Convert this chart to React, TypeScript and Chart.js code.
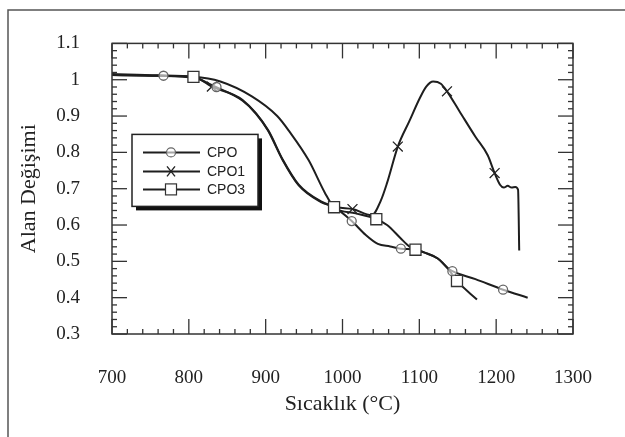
import React, { useEffect, useRef } from "react";
import { Chart, registerables } from "chart.js";

Chart.register(...registerables);

// ---- data -------------------------------------------------------------
const xTicks = [700, 800, 900, 1000, 1100, 1200, 1300];
const yTicks = [0.3, 0.4, 0.5, 0.6, 0.7, 0.8, 0.9, 1.0, 1.1];

const seriesNames = ["CPO", "CPO1", "CPO3"];

const cpoT = [700, 760, 808, 833, 870, 888, 903, 922, 943, 972, 989, 1012, 1030, 1046, 1062, 1076, 1095, 1107, 1124, 1137, 1143, 1173, 1209, 1241];
const cpoA = [1.013, 1.011, 1.005, 0.982, 0.942, 0.905, 0.86, 0.779, 0.709, 0.663, 0.649, 0.611, 0.573, 0.548, 0.541, 0.535, 0.532, 0.524, 0.508, 0.481, 0.473, 0.451, 0.422, 0.4];

const cpo1T = [700, 760, 808, 830, 870, 903, 922, 943, 972, 993, 1013, 1038, 1050, 1058, 1072, 1087, 1101, 1109, 1118, 1128, 1136, 1152, 1173, 1189, 1198, 1205, 1210, 1215, 1220, 1225, 1228.5, 1230];
const cpo1A = [1.016, 1.012, 1.007, 0.981, 0.944, 0.862, 0.781, 0.711, 0.665, 0.649, 0.644, 0.627, 0.668, 0.716, 0.816, 0.886, 0.951, 0.981, 0.995, 0.989, 0.968, 0.914, 0.843, 0.792, 0.743, 0.711, 0.703, 0.708, 0.703, 0.705, 0.697, 0.53];

const cpo3T = [700, 747, 806, 841, 882, 915, 931, 956, 977, 989, 1017, 1044, 1058, 1075, 1087, 1095, 1107, 1124, 1137, 1149, 1175];
const cpo3A = [1.013, 1.011, 1.008, 0.995, 0.954, 0.9, 0.857, 0.778, 0.689, 0.649, 0.632, 0.616, 0.6, 0.565, 0.541, 0.532, 0.524, 0.508, 0.481, 0.446, 0.395];

const cpoMarkT = [767, 836, 1012, 1076, 1143, 1209];
const cpoMarkA = [1.011, 0.98, 0.611, 0.535, 0.473, 0.422];
const cpo1MarkT = [830, 1013, 1072, 1136, 1198];
const cpo1MarkA = [0.981, 0.644, 0.816, 0.968, 0.743];
const cpo3MarkT = [806, 989, 1044, 1095, 1149];
const cpo3MarkA = [1.008, 0.649, 0.616, 0.532, 0.446];

// ---- helpers ----------------------------------------------------------
const SERIF = "'Liberation Serif', 'Times New Roman', serif";
const SANS = "'Liberation Sans', Arial, sans-serif";
const INK = "#1e1e1e";

const pts = (t: number[], a: number[]) => t.map((v, i) => ({ x: v, y: a[i] }));

function drawMarker(ctx: CanvasRenderingContext2D, kind: string, x: number, y: number) {
  ctx.save();
  if (kind === "circle") {
    ctx.beginPath();
    ctx.arc(x, y, 4.5, 0, Math.PI * 2);
    ctx.fillStyle = "rgba(255,255,255,0.6)";
    ctx.fill();
    ctx.strokeStyle = "#666";
    ctx.lineWidth = 1.2;
    ctx.stroke();
  } else if (kind === "rect") {
    ctx.fillStyle = "#fff";
    ctx.fillRect(x - 5.5, y - 5.5, 11, 11);
    ctx.strokeStyle = "#333";
    ctx.lineWidth = 1.2;
    ctx.strokeRect(x - 5.5, y - 5.5, 11, 11);
  } else {
    ctx.strokeStyle = "#222";
    ctx.lineWidth = 1.4;
    ctx.beginPath();
    ctx.moveTo(x - 4, y - 5);
    ctx.lineTo(x + 4, y + 5);
    ctx.moveTo(x + 4, y - 5);
    ctx.lineTo(x - 4, y + 5);
    ctx.stroke();
  }
  ctx.restore();
}

const markerKinds = ["circle", "crossRot", "rect"];

const pagePlugin = {
  id: "pageFrame",
  beforeDraw(chart: any) {
    const { ctx } = chart;
    ctx.save();
    ctx.strokeStyle = "#555";
    ctx.lineWidth = 1.5;
    ctx.beginPath();
    ctx.moveTo(8, chart.height);
    ctx.lineTo(8, 10);
    ctx.lineTo(chart.width, 10);
    ctx.stroke();
    ctx.restore();
  },
};

const framePlugin = {
  id: "plotFrame",
  afterDatasetsDraw(chart: any) {
    const { ctx, chartArea } = chart;
    const { left, right, top, bottom } = chartArea;
    const xs = chart.scales.x;
    const ys = chart.scales.y;
    ctx.save();
    ctx.strokeStyle = "#333";
    ctx.lineWidth = 1.5;
    ctx.strokeRect(left, top, right - left, bottom - top);
    const seg = (x1: number, y1: number, x2: number, y2: number) => {
      ctx.beginPath();
      ctx.moveTo(x1, y1);
      ctx.lineTo(x2, y2);
      ctx.stroke();
    };
    ctx.lineWidth = 1.3;
    const major = 15;
    const minor = 5;
    for (let v = xTicks[0]; v <= xTicks[xTicks.length - 1]; v += 20) {
      const p = xs.getPixelForValue(v);
      const len = v % 100 === 0 ? major : minor;
      seg(p, bottom, p, bottom - len);
      seg(p, top, p, top + len);
    }
    const n = Math.round((yTicks[yTicks.length - 1] - yTicks[0]) / 0.02);
    for (let i = 0; i <= n; i++) {
      const v = yTicks[0] + i * 0.02;
      const p = ys.getPixelForValue(v);
      const len = i % 5 === 0 ? major : minor;
      seg(left, p, left + len, p);
      seg(right, p, right - len, p);
    }
    ctx.restore();
  },
};

const legendPlugin = {
  id: "boxLegend",
  afterDraw(chart: any) {
    const { ctx, chartArea } = chart;
    const bx = chartArea.left + 20;
    const by = chartArea.top + 91;
    const bw = 126;
    const bh = 72;
    ctx.save();
    ctx.fillStyle = "#111";
    ctx.fillRect(bx + 4, by + 4, bw, bh);
    ctx.fillStyle = "#fff";
    ctx.fillRect(bx, by, bw, bh);
    ctx.strokeStyle = "#222";
    ctx.lineWidth = 1.5;
    ctx.strokeRect(bx, by, bw, bh);
    const rows = [18, 37, 55];
    ctx.font = `14px ${SANS}`;
    ctx.textBaseline = "middle";
    ctx.textAlign = "left";
    seriesNames.forEach((name, i) => {
      const y = by + rows[i];
      ctx.strokeStyle = INK;
      ctx.lineWidth = 2;
      ctx.beginPath();
      ctx.moveTo(bx + 11, y);
      ctx.lineTo(bx + 68, y);
      ctx.stroke();
      drawMarker(ctx, markerKinds[i], bx + 39, y);
      ctx.fillStyle = "#222";
      ctx.fillText(name, bx + 75, y + 1);
    });
    ctx.restore();
  },
};

// ---- component --------------------------------------------------------
export default function App() {
  const ref = useRef<HTMLCanvasElement | null>(null);

  useEffect(() => {
    if (!ref.current) return;
    const lineDs = (label: string, t: number[], a: number[]) => ({
      label,
      data: pts(t, a),
      showLine: true,
      borderColor: INK,
      borderWidth: 2,
      pointRadius: 0,
      fill: false,
      cubicInterpolationMode: "monotone" as const,
      order: 2,
    });
    const markDs = (label: string, t: number[], a: number[], style: string, r: number, stroke: string, fillC: string) => ({
      label,
      data: pts(t, a),
      showLine: false,
      pointStyle: style,
      pointRadius: r,
      pointBorderColor: stroke,
      pointBackgroundColor: fillC,
      pointBorderWidth: 1.3,
      order: 0,
    });

    const chart = new Chart(ref.current, {
      type: "scatter",
      data: {
        datasets: [
          lineDs("CPO", cpoT, cpoA),
          lineDs("CPO1", cpo1T, cpo1A),
          lineDs("CPO3", cpo3T, cpo3A),
          markDs("CPO markers", cpoMarkT, cpoMarkA, "circle", 4.5, "#666", "rgba(255,255,255,0.6)"),
          markDs("CPO1 markers", cpo1MarkT, cpo1MarkA, "crossRot", 7, "#222", "#222"),
          markDs("CPO3 markers", cpo3MarkT, cpo3MarkA, "rect", 7.8, "#333", "#fff"),
        ] as any,
      },
      options: {
        animation: false,
        responsive: false,
        layout: { padding: { left: 0, top: 38, right: 25, bottom: 0 } },
        plugins: {
          legend: { display: false },
          tooltip: { enabled: false },
        },
        scales: {
          x: {
            type: "linear",
            min: xTicks[0],
            max: xTicks[xTicks.length - 1],
            afterBuildTicks: (s: any) => {
              s.ticks = xTicks.map((v) => ({ value: v }));
            },
            afterFit: (s: any) => {
              s.height = 103;
            },
            grid: { display: false, drawTicks: false },
            border: { display: false },
            ticks: {
              padding: 33,
              maxRotation: 0,
              autoSkip: false,
              color: "#222",
              font: { family: SERIF, size: 19 },
              callback: (v: any) => String(v),
            },
            title: {
              display: true,
              text: "Sıcaklık (°C)",
              color: "#222",
              font: { family: SERIF, size: 22 },
              padding: { top: 0, bottom: 20 },
            },
          },
          y: {
            type: "linear",
            min: yTicks[0],
            max: yTicks[yTicks.length - 1],
            afterBuildTicks: (s: any) => {
              s.ticks = yTicks.map((v) => ({ value: v }));
            },
            afterFit: (s: any) => {
              s.width = 112;
            },
            grid: { display: false, drawTicks: false },
            border: { display: false },
            ticks: {
              padding: 32,
              autoSkip: false,
              color: "#222",
              font: { family: SERIF, size: 19 },
              callback: (v: any) => String(Number(Number(v).toFixed(1))),
            },
            title: {
              display: true,
              text: "Alan Değişimi",
              color: "#222",
              font: { family: SERIF, size: 22 },
              padding: { top: 16, bottom: 0 },
            },
          },
        },
      },
      plugins: [pagePlugin, framePlugin, legendPlugin],
    });
    return () => chart.destroy();
  }, []);

  return (
    <div style={{ position: "fixed", left: 0, top: 0, width: 625, height: 437, background: "#fff" }}>
      <canvas ref={ref} width={625} height={437} />
    </div>
  );
}
